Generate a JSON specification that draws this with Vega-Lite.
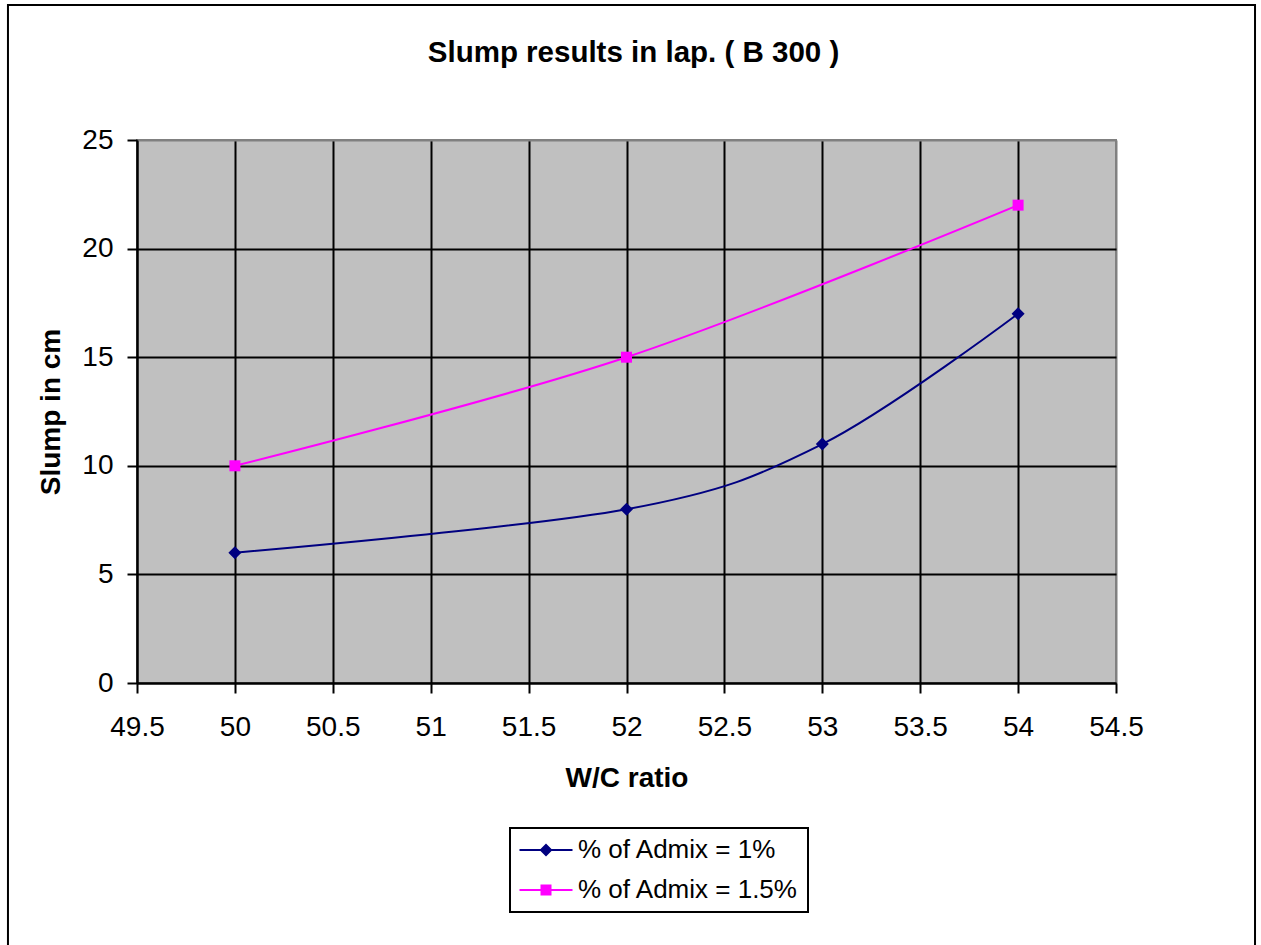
{
  "$schema": "https://vega.github.io/schema/vega-lite/v6.json",
  "width": 979,
  "height": 543,
  "autosize": {"type": "none"},
  "padding": {"left": 137, "top": 140, "right": 145, "bottom": 262},
  "background": "white",
  "title": {
    "text": "Slump results in lap. ( B 300 )",
    "font": "Liberation Sans",
    "fontSize": 29.5,
    "fontWeight": "bold",
    "color": "black",
    "anchor": "middle",
    "frame": "group",
    "baseline": "alphabetic",
    "offset": -87,
    "dx": 7
  },
  "config": {
    "font": "Liberation Sans",
    "view": {"fill": "#C0C0C0", "stroke": "#808080", "strokeWidth": 2}
  },
  "datasets": {
    "slump": [
      {"wc": 50, "slump": 6, "admix": "% of Admix = 1%"},
      {"wc": 52, "slump": 8, "admix": "% of Admix = 1%"},
      {"wc": 53, "slump": 11, "admix": "% of Admix = 1%"},
      {"wc": 54, "slump": 17, "admix": "% of Admix = 1%"},
      {"wc": 50, "slump": 10, "admix": "% of Admix = 1.5%"},
      {"wc": 52, "slump": 15, "admix": "% of Admix = 1.5%"},
      {"wc": 54, "slump": 22, "admix": "% of Admix = 1.5%"}
    ]
  },
  "layer": [
    {
      "data": {"name": "slump"},
      "mark": {"type": "line", "interpolate": "cardinal", "strokeWidth": 2},
      "encoding": {
        "x": {
          "field": "wc",
          "type": "quantitative",
          "title": "W/C ratio",
          "scale": {"domain": [49.5, 54.5], "nice": false, "zero": false},
          "axis": {
            "values": [49.5, 50, 50.5, 51, 51.5, 52, 52.5, 53, 53.5, 54, 54.5],
            "format": "~g",
            "labelFontSize": 28,
            "labelColor": "black",
            "labelPadding": 20,
            "labelFlush": false,
            "labelOverlap": false,
            "tickSize": 10,
            "tickColor": "black",
            "tickWidth": 2,
            "domainColor": "black",
            "domainWidth": 2,
            "grid": true,
            "gridColor": {"condition": {"test": "datum.value == 54.5", "value": "#808080"}, "value": "black"},
            "gridWidth": 2,
            "gridOpacity": 1,
            "titleFontSize": 28,
            "titleFontWeight": "bold",
            "titleColor": "black",
            "titlePadding": 23
          }
        },
        "y": {
          "field": "slump",
          "type": "quantitative",
          "title": "Slump in cm",
          "scale": {"domain": [0, 25], "nice": false},
          "axis": {
            "values": [0, 5, 10, 15, 20, 25],
            "format": "d",
            "labelFontSize": 28,
            "labelColor": "black",
            "labelPadding": 14,
            "labelFlush": false,
            "labelOverlap": false,
            "tickSize": 10,
            "tickColor": "black",
            "tickWidth": 2,
            "domainColor": "black",
            "domainWidth": 2,
            "grid": true,
            "gridColor": {"condition": {"test": "datum.value == 25", "value": "#808080"}, "value": "black"},
            "gridWidth": 2,
            "gridOpacity": 1,
            "titleFontSize": 28,
            "titleFontWeight": "bold",
            "titleColor": "black",
            "titlePadding": 16
          }
        },
        "color": {
          "field": "admix",
          "type": "nominal",
          "scale": {"domain": ["% of Admix = 1%", "% of Admix = 1.5%"], "range": ["#000080", "#FF00FF"]},
          "legend": {
            "orient": "none",
            "legendX": 373,
            "legendY": 688,
            "title": null,
            "fillColor": "white",
            "strokeColor": "black",
            "padding": 9,
            "labelFont": "Liberation Sans",
            "labelFontSize": 26,
            "labelColor": "black",
            "labelLimit": 400,
            "labelOffset": 19,
            "symbolOffset": 14,
            "symbolSize": 400,
            "rowPadding": 14,
            "encode": {
              "legend": {"update": {"strokeWidth": {"value": 2}}},
              "symbols": {
                "update": {
                  "shape": {"signal": "datum.value === '% of Admix = 1%' ? 'M-2.65,-0.1 L2.65,-0.1 L2.65,0.1 L-2.65,0.1 Z M0,-0.65 L0.65,0 L0,0.65 L-0.65,0 Z' : 'M-2.65,-0.1 L2.65,-0.1 L2.65,0.1 L-2.65,0.1 Z M-0.55,-0.55 L0.55,-0.55 L0.55,0.55 L-0.55,0.55 Z'"},
                  "fill": {"scale": "color", "field": "value"},
                  "fillOpacity": {"value": 1},
                  "strokeWidth": {"value": 0}
                }
              }
            }
          }
        }
      }
    },
    {
      "data": {"name": "slump"},
      "transform": [{"filter": "datum.admix === '% of Admix = 1%'"}],
      "mark": {"type": "point", "shape": "diamond", "size": 169, "filled": true, "opacity": 1, "strokeWidth": 0},
      "encoding": {
        "x": {"field": "wc", "type": "quantitative"},
        "y": {"field": "slump", "type": "quantitative"},
        "color": {"field": "admix", "type": "nominal"}
      }
    },
    {
      "data": {"name": "slump"},
      "transform": [{"filter": "datum.admix === '% of Admix = 1.5%'"}],
      "mark": {"type": "point", "shape": "square", "size": 121, "filled": true, "opacity": 1, "strokeWidth": 0},
      "encoding": {
        "x": {"field": "wc", "type": "quantitative"},
        "y": {"field": "slump", "type": "quantitative"},
        "color": {"field": "admix", "type": "nominal"}
      }
    },
    {
      "data": {"values": [{}]},
      "mark": {"type": "rect", "fillOpacity": 0, "stroke": "black", "strokeWidth": 2, "clip": false},
      "encoding": {
        "x": {"datum": 48.841, "type": "quantitative"},
        "x2": {"datum": 55.21},
        "y": {"datum": 31.215, "type": "quantitative"},
        "y2": {"datum": -12.3}
      }
    }
  ]
}
